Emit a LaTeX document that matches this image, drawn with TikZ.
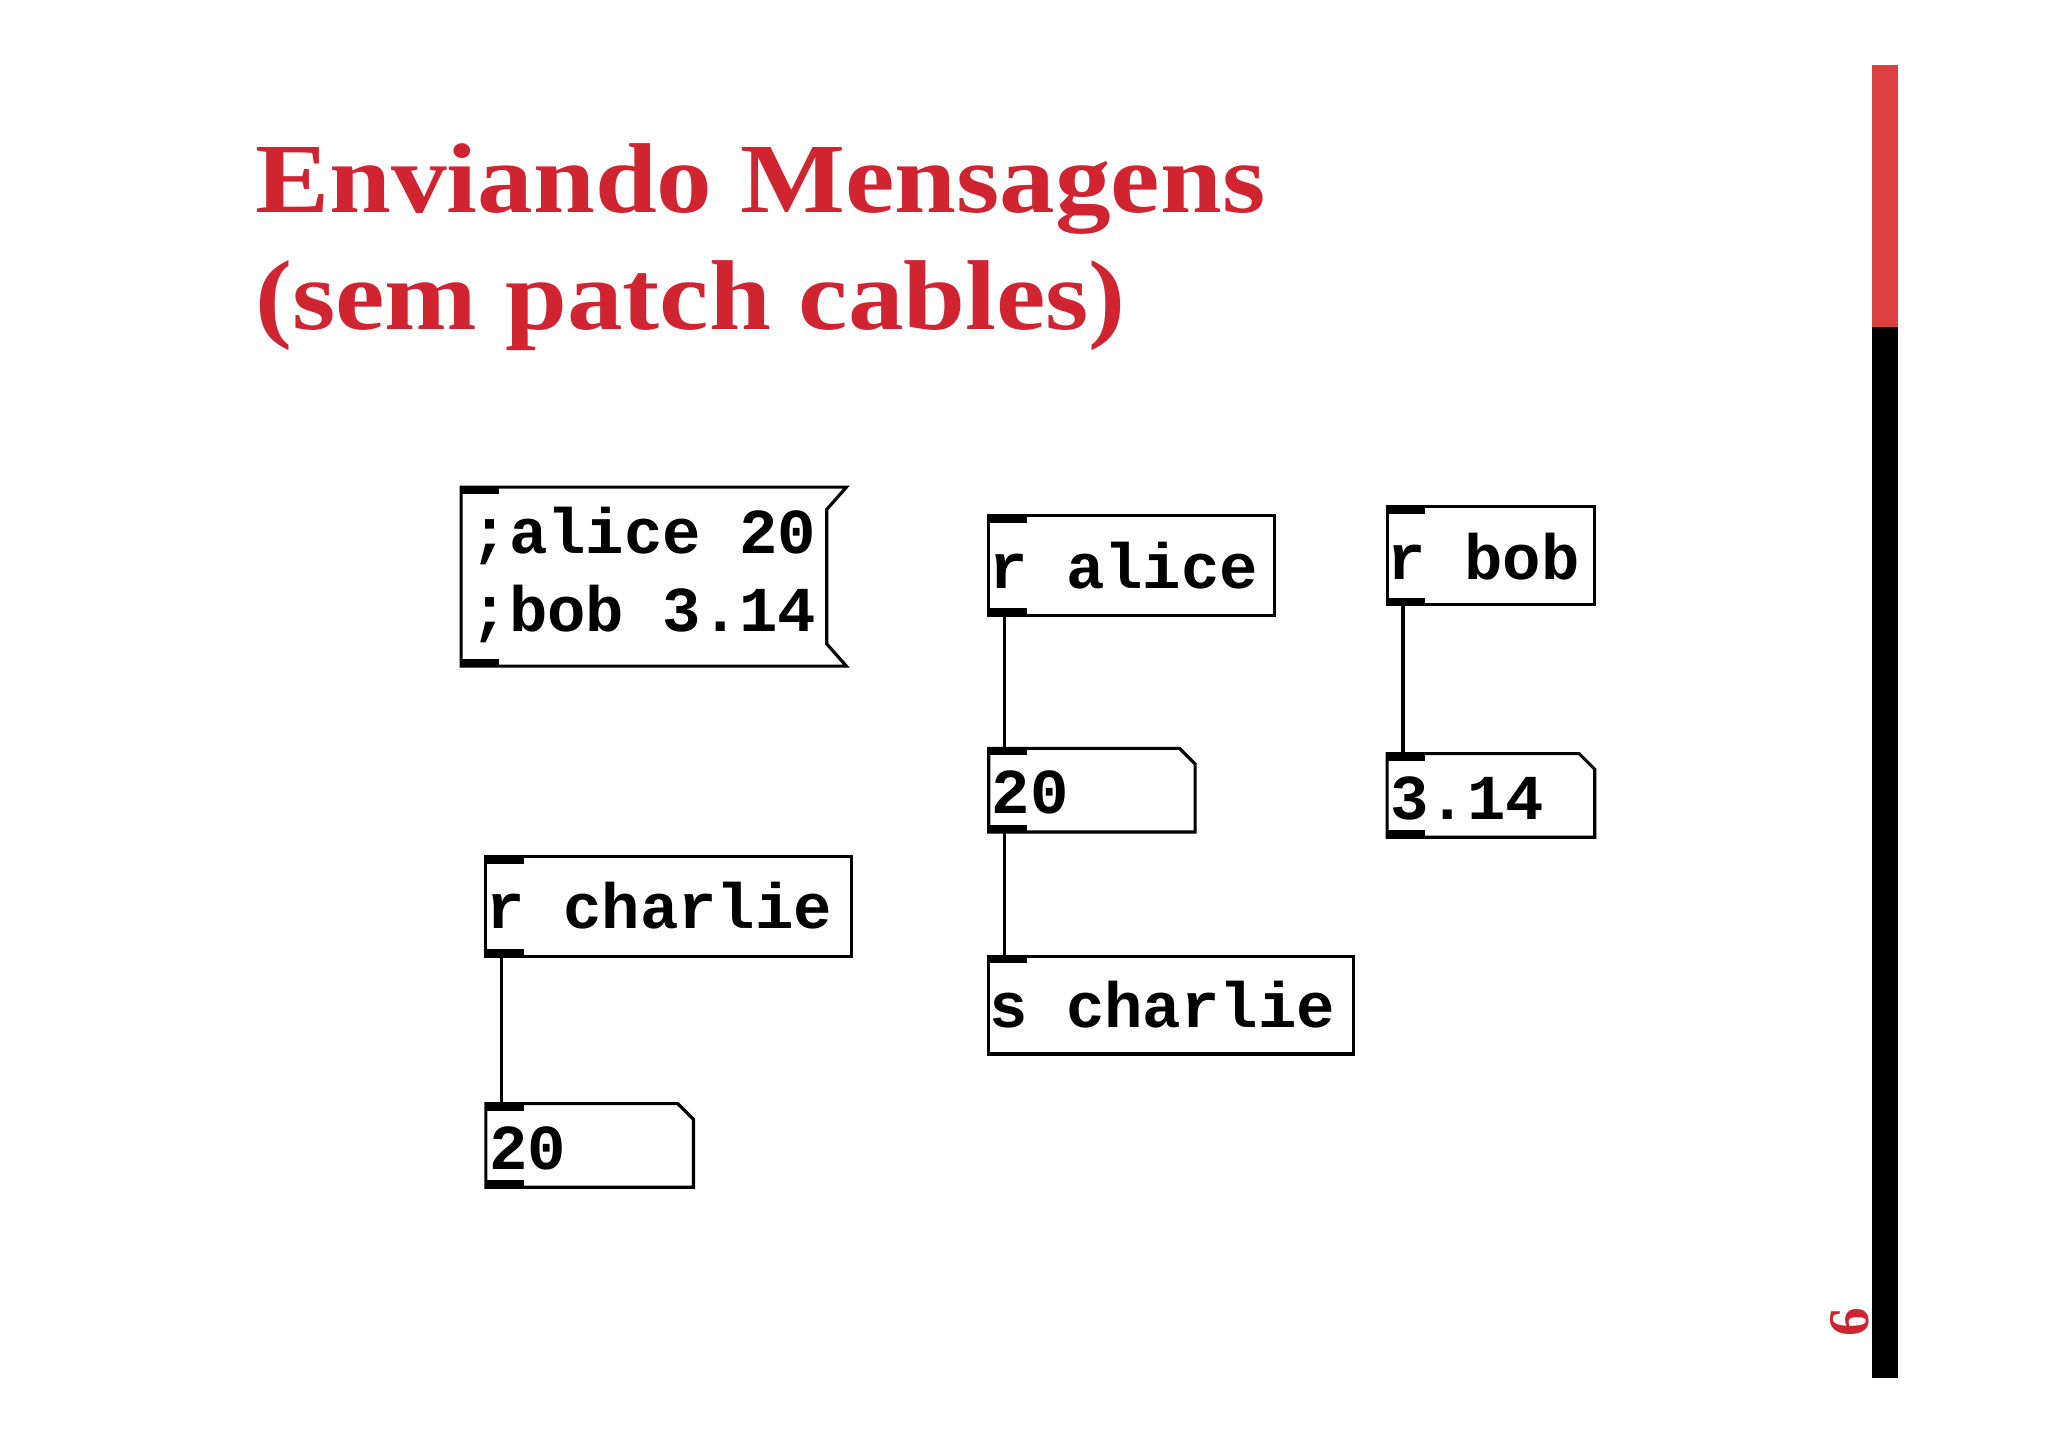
\documentclass[tikz,border=0pt]{standalone}
\usepackage{fontspec}
\setmainfont{Liberation Serif}
\newfontfamily\pdmono{Liberation Mono}
\definecolor{tred}{RGB}{208,36,48}
\definecolor{bred}{RGB}{220,64,64}
\tikzset{
 pdbox/.style={draw,line width=1.2pt},
 pdtxt/.style={anchor=west,inner sep=0pt,font=\pdmono\bfseries\fontsize{24.5}{28}\selectfont},
 io/.style={line width=2.4pt},
 cable/.style={line width=1.4pt},
 ttl/.style={anchor=base west,inner sep=0pt,text=tred,xscale=1.12,font=\bfseries\fontsize{38}{44}\selectfont}
}
\begin{document}
\begin{tikzpicture}[x=0.5pt,y=-0.5pt]
\useasboundingbox (0,0) rectangle (1568,1106);
\fill[white] (0,0) rectangle (1568,1106);
% title
\node[ttl] (t1) at (195,163) {Enviando Mensagens};
\node[ttl] (t2) at (195,252) {(sem patch cables)};
% bar
\fill[bred] (1433,50) rectangle (1453,250);
\fill[black] (1433,250) rectangle (1453,1055);
\node[rotate=90,text=tred,font=\bfseries\fontsize{22}{26}\selectfont,inner sep=0pt] (pg) at (1416,1012) {6};
% message box
\draw[pdbox] (353,373) -- (648,373) -- (633,390) -- (633,493) -- (648,510) -- (353,510) -- cycle;
\draw[io] (354,376) -- (382,376); \draw[io] (354,507) -- (382,507);
\node[pdtxt] (mt1) at (360,410) {;alice 20};
\node[pdtxt] (mt2) at (360,470) {;bob 3.14};
% r alice
\draw[pdbox] (757,395) rectangle (976,471);
\node[pdtxt] (ra) at (757,433) {r alice};
\draw[io] (758,398) -- (786,398); \draw[io] (758,468) -- (786,468);
\coordinate (raout) at (769,471);
% r bob
\draw[pdbox] (1062,388) rectangle (1221,463);
\node[pdtxt] (rb) at (1062,426) {r bob};
\draw[io] (1063,391) -- (1091,391); \draw[io] (1063,460) -- (1091,460);
\coordinate (rbout) at (1074,463);
% number 20
\draw[pdbox] (757,573) -- (903,573) -- (915,585) -- (915,637) -- (757,637) -- cycle;
\node[pdtxt] (n20) at (759,607) {20};
\draw[io] (758,576) -- (786,576); \draw[io] (758,634) -- (786,634);
\coordinate (n20in) at (769,573); \coordinate (n20out) at (769,637);
% number 3.14
\draw[pdbox] (1062,577) -- (1209,577) -- (1221,589) -- (1221,641) -- (1062,641) -- cycle;
\node[pdtxt] (n314) at (1064,611) {3.14};
\draw[io] (1063,580) -- (1091,580); \draw[io] (1063,638) -- (1091,638);
\coordinate (n314in) at (1074,577);
% r charlie
\draw[pdbox] (372,656) rectangle (652,732);
\node[pdtxt] (rc) at (372,693) {r charlie};
\draw[io] (373,659) -- (401,659); \draw[io] (373,729) -- (401,729);
\coordinate (rcout) at (384,732);
% s charlie
\draw[pdbox] (757,732) rectangle (1036,807);
\node[pdtxt] (sc) at (757,769) {s charlie};
\draw[io] (758,735) -- (786,735);
\coordinate (scin) at (769,732);
% number 20 bottom
\draw[pdbox] (372,845) -- (519,845) -- (531,857) -- (531,909) -- (372,909) -- cycle;
\node[pdtxt] (n20b) at (374,879) {20};
\draw[io] (373,848) -- (401,848); \draw[io] (373,906) -- (401,906);
\coordinate (n20bin) at (384,845);
% cables
\draw[cable] (raout) -- (n20in);
\draw[cable] (n20out) -- (scin);
\draw[cable] (rbout) -- (n314in);
\draw[cable] (rcout) -- (n20bin);
\end{tikzpicture}
\end{document}
